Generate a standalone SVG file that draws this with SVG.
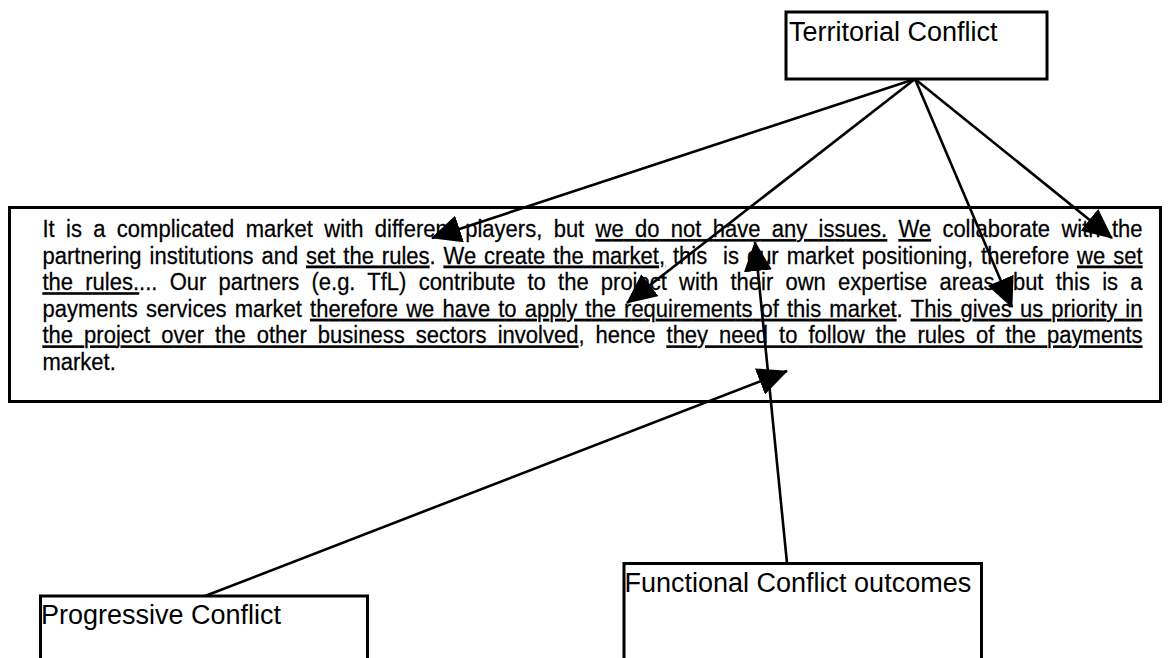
<svg xmlns="http://www.w3.org/2000/svg" width="1168" height="658" viewBox="0 0 1168 658">
<style>
.box{fill:#fff;stroke:#000;stroke-width:3}
.lbl{font-family:"Liberation Sans",Arial,sans-serif;font-size:27px;fill:#000}
.body{font-family:"Liberation Sans",Arial,sans-serif;font-size:22px;fill:#000;stroke:#000;stroke-width:0.25}
.u{text-decoration:underline}
.conn{stroke:#000;stroke-width:2.6;fill:none;marker-end:url(#ah)}
</style>
<defs>
<marker id="ah" viewBox="0 0 30 28" refX="29" refY="14" markerWidth="30" markerHeight="28" markerUnits="userSpaceOnUse" orient="auto">
<path d="M0,0 L30,14 L0,28 Z" fill="#000"/>
</marker>
</defs>
<rect width="1168" height="658" fill="#fff"/>
<g id="territorial">
<rect class="box" x="786" y="12" width="261" height="67"/>
<text class="lbl" x="789" y="41">Territorial Conflict</text>
</g>
<g id="quote">
<rect class="box" x="9.5" y="207.5" width="1151" height="194"/>
<text class="body" transform="translate(42.5,237) scale(1,1.09)" x="0" y="0" word-spacing="5.2" textLength="1100" lengthAdjust="spacing">It is a complicated market with different players, but <tspan class="u">we do not have any issues.</tspan> <tspan class="u">We</tspan> collaborate with the</text>
<text class="body" transform="translate(42.5,263.6) scale(1,1.09)" x="0" y="0" word-spacing="1.8" textLength="1100" lengthAdjust="spacing" xml:space="preserve">partnering institutions and <tspan class="u">set the rules</tspan>. <tspan class="u">We create the market,</tspan> this  is our market positioning, therefore <tspan class="u">we set</tspan></text>
<text class="body" transform="translate(42.5,290.2) scale(1,1.09)" x="0" y="0" word-spacing="6.1" textLength="1100" lengthAdjust="spacing"><tspan class="u">the rules.</tspan>... Our partners (e.g. TfL) contribute to the project with their own expertise areas, but this is a</text>
<text class="body" transform="translate(42.5,316.8) scale(1,1.09)" x="0" y="0" word-spacing="2.0" textLength="1100" lengthAdjust="spacing">payments services market <tspan class="u">therefore we have to apply the requirements of this market</tspan>. <tspan class="u">This gives us priority in</tspan></text>
<text class="body" transform="translate(42.5,343.4) scale(1,1.09)" x="0" y="0" word-spacing="4.9" textLength="1100" lengthAdjust="spacing"><tspan class="u">the project over the other business sectors involved</tspan>, hence <tspan class="u">they need to follow the rules of the payments</tspan></text>
<text class="body" transform="translate(42.5,370) scale(1,1.09)" x="0" y="0">market.</text>
</g>
<g id="progressive">
<rect class="box" x="40.5" y="596" width="327" height="100"/>
<text class="lbl" x="41" y="624">Progressive Conflict</text>
</g>
<g id="functional">
<rect class="box" x="624" y="563.5" width="357.5" height="130"/>
<text class="lbl" x="624.5" y="592">Functional Conflict outcomes</text>
</g>
<g id="connectors">
<line class="conn" x1="915" y1="79" x2="432" y2="238"/>
<line class="conn" x1="915" y1="79" x2="627" y2="303"/>
<line class="conn" x1="915" y1="79" x2="1012" y2="307"/>
<line class="conn" x1="915" y1="79" x2="1112" y2="238"/>
<line class="conn" x1="787" y1="563" x2="755" y2="242"/>
<line class="conn" x1="205" y1="596" x2="787" y2="371"/>
</g>
</svg>
